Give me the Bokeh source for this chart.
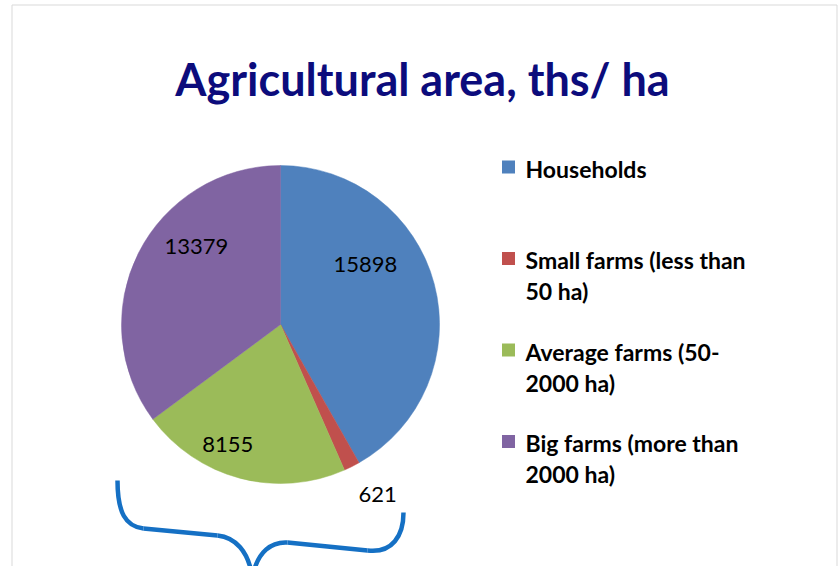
import math
from bokeh.plotting import figure
from bokeh.models import Range1d, ColumnDataSource
from bokeh.core.properties import value
from bokeh.embed import file_html
from bokeh.resources import INLINE

# ---- data ----
title_text = "Agricultural area, ths/ ha"
categories = ["Households", "Small farms (less than 50 ha)",
              "Average farms (50-2000 ha)", "Big farms (more than 2000 ha)"]
legend_lines = [["Households"],
                ["Small farms (less than", "50 ha)"],
                ["Average farms (50-", "2000 ha)"],
                ["Big farms (more than", "2000 ha)"]]
values = [15898, 621, 8155, 13379]
colors = ["#4F81BD", "#C0504D", "#9BBB59", "#8064A2"]
# label placement (style): angular offset from slice mid-angle (deg, clockwise) and radius fraction
label_angle_offset = [-20.4, -3.1, 8.9, 16.1]
label_radius_frac = [0.654, 1.231, 0.825, 0.721]

W, H = 838, 566
p = figure(width=W, height=H, output_backend="svg", toolbar_location=None,
           x_range=Range1d(0, W), y_range=Range1d(-H, 0),
           min_border=0, outline_line_color=None)
p.axis.visible = False
p.grid.visible = False
p.background_fill_color = "white"
p.border_fill_color = "white"

# frame border lines (light gray)
bc = "#D9D9D9"
p.line([11.5, 11.5], [-H, -4.5], line_color=bc, line_width=1)
p.line([11.5, 836.5], [-4.5, -4.5], line_color=bc, line_width=1)
p.line([836.5, 836.5], [-4.5, -H], line_color=bc, line_width=1)

# title
p.text(x=[422], y=[-78], text=[title_text], text_align="center",
       text_baseline="alphabetic", text_font=value("Lato"),
       text_font_style="bold", text_font_size="45px", text_color="#0C0C7C")

# pie
cx, cy, r = 280, -324, 159
total = sum(values)
starts, ends, mids = [], [], []
cum = 0.0
for v in values:
    a0 = cum / total * 360.0
    cum += v
    a1 = cum / total * 360.0
    starts.append(math.radians(90 - a0))
    ends.append(math.radians(90 - a1))
    mids.append((a0 + a1) / 2)
src = ColumnDataSource(dict(start=starts, end=ends, color=colors))
p.wedge(x=cx, y=cy, radius=r, start_angle="start", end_angle="end",
        direction="clock", fill_color="color", line_color="color",
        line_width=0.5, source=src)

# data labels
lx, ly = [], []
for m, off, f in zip(mids, label_angle_offset, label_radius_frac):
    a = math.radians(m + off)
    lx.append(cx + f * r * math.sin(a))
    ly.append(cy + f * r * math.cos(a))
p.text(x=lx, y=ly, text=[str(v) for v in values], text_align="center",
       text_baseline="middle", text_font=value("Lato"), text_font_size="22px",
       text_color="black")

# legend
leg_x, leg_y0, leg_step, line_h, sq = 508, -168, -91.5, -31, 13
tx, ty, tt = [], [], []
sqx, sqy = [], []
for i, lines in enumerate(legend_lines):
    y0 = leg_y0 + i * leg_step
    sqx.append(leg_x)
    sqy.append(y0 + 1.5)
    for j, ln in enumerate(lines):
        tx.append(leg_x + 17)
        ty.append(y0 + j * line_h)
        tt.append(ln)
p.rect(x=sqx, y=sqy, width=sq, height=sq, fill_color=colors, line_color=None)
p.text(x=tx, y=ty, text=tt, text_align="left", text_baseline="middle",
       text_font=value("Lato"), text_font_style="bold", text_font_size="23px",
       text_color="black")

# curly brace annotation (screen-like coords, y negated)
bcol = "#1570C4"
curves = [
    ((117, 480), (117, 512), (125, 526), (143, 528)),
    ((217, 535), (236, 537), (247, 552), (251, 572)),
    ((253, 572), (258, 552), (270, 541), (287, 542)),
    ((367, 550), (392, 553), (403, 535), (403, 512)),
]
p.bezier(x0=[c[0][0] for c in curves], y0=[-c[0][1] for c in curves],
         cx0=[c[1][0] for c in curves], cy0=[-c[1][1] for c in curves],
         cx1=[c[2][0] for c in curves], cy1=[-c[2][1] for c in curves],
         x1=[c[3][0] for c in curves], y1=[-c[3][1] for c in curves],
         line_color=bcol, line_width=4.5)
segs = [((143, 528), (217, 535)), ((287, 542), (367, 550))]
p.segment(x0=[s[0][0] for s in segs], y0=[-s[0][1] for s in segs],
          x1=[s[1][0] for s in segs], y1=[-s[1][1] for s in segs],
          line_color=bcol, line_width=4.5)

open("out.html", "w").write(file_html(p, INLINE))
